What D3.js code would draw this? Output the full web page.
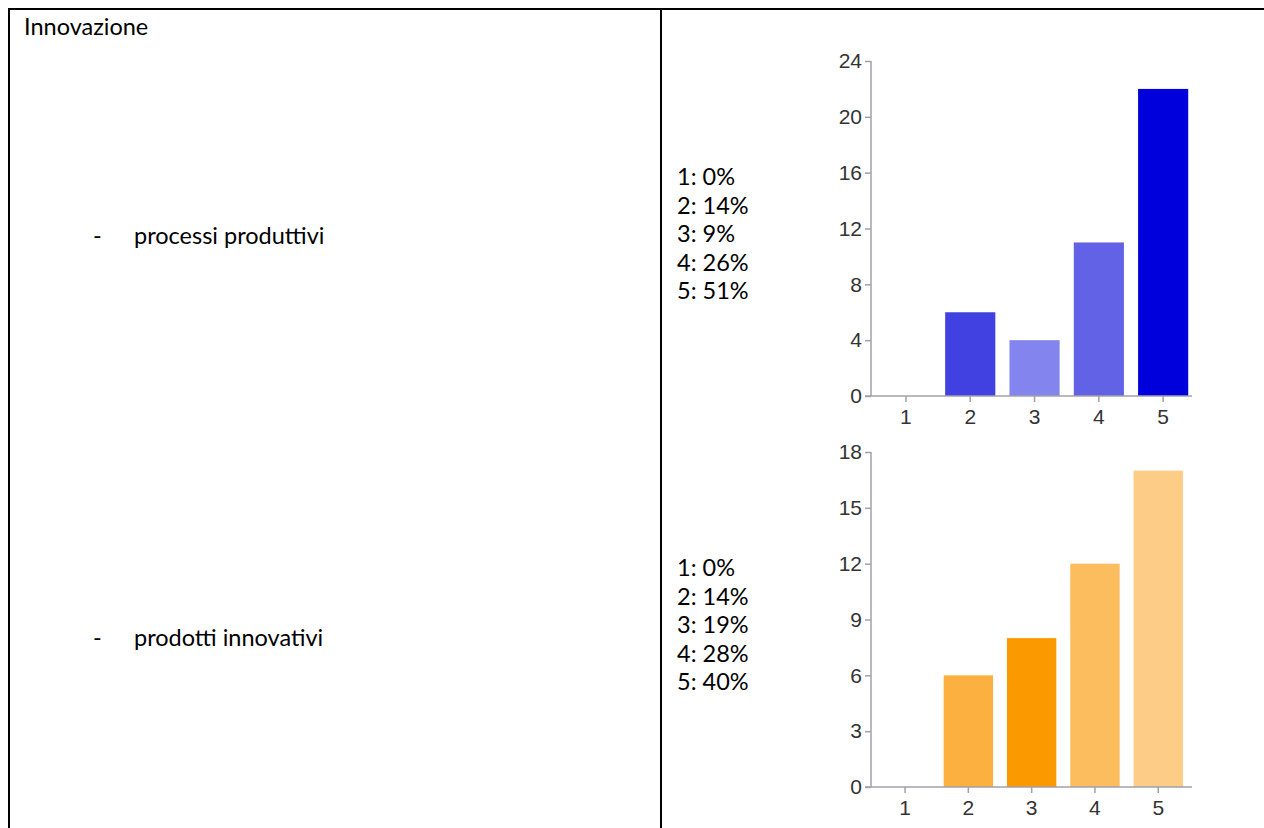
<!DOCTYPE html>
<html>
<head>
<meta charset="utf-8">
<script src="https://cdn.jsdelivr.net/npm/d3@7"></script>
<style>
  html, body { margin: 0; padding: 0; background: #fff; }
  svg { display: block; }
  .doc { font-family: Lato, "Open Sans", sans-serif; font-size: 23.5px; fill: #000; }
  .axis text { font-family: "Liberation Sans", Arial, sans-serif; font-size: 21px; fill: #333; }
  .axis path, .axis line { stroke: #a0a0a8; stroke-width: 1.5px; }
</style>
</head>
<body>
<script>
// ---- data ----
const title = "Innovazione";
const rowLabels = ["processi produttivi", "prodotti innovativi"];
const categories = ["1", "2", "3", "4", "5"];
const processiValues = [0, 6, 4, 11, 22];
const prodottiValues = [0, 6, 8, 12, 17];
const processiPercents = ["0%", "14%", "9%", "26%", "51%"];
const prodottiPercents = ["0%", "14%", "19%", "28%", "40%"];
const processiTicks = [0, 4, 8, 12, 16, 20, 24];
const prodottiTicks = [0, 3, 6, 9, 12, 15, 18];
const processiColors = ["#4040e0", "#4141e1", "#8484ee", "#6262e6", "#0000dc"];
const prodottiColors = ["#fbb040", "#fbb040", "#fa9900", "#fcbd5e", "#fdcd88"];

const W = 1264, H = 828;
const svg = d3.select("body").append("svg").attr("width", W).attr("height", H);

// table borders
const lines = [
  [8, 9, W, 9],
  [9, 8, 9, H],
  [661, 9, 661, H]
];
svg.selectAll("line.border").data(lines).join("line")
  .attr("class", "border")
  .attr("x1", d => d[0]).attr("y1", d => d[1])
  .attr("x2", d => d[2]).attr("y2", d => d[3])
  .attr("stroke", "#000").attr("stroke-width", 2);

svg.append("text").attr("class", "doc").attr("x", 24).attr("y", 35).text(title);

const rows = [
  { label: rowLabels[0], values: processiValues, pct: processiPercents, ticks: processiTicks,
    colors: processiColors, yMax: 24, y0: 396, y1: 61, x0: 873.8, x1: 1195.3, axisEnd: 1192, listTop: 185, labelY: 244 },
  { label: rowLabels[1], values: prodottiValues, pct: prodottiPercents, ticks: prodottiTicks,
    colors: prodottiColors, yMax: 18, y0: 787, y1: 452, x0: 873.4, x1: 1189.9, axisEnd: 1192, listTop: 576, labelY: 646 }
];

rows.forEach(r => {
  // left label
  svg.append("text").attr("class", "doc").attr("x", 93).attr("y", r.labelY).text("-");
  svg.append("text").attr("class", "doc").attr("x", 134).attr("y", r.labelY).text(r.label);

  // percentage list
  svg.append("g").selectAll("text").data(categories).join("text")
    .attr("class", "doc")
    .attr("x", 677)
    .attr("y", (d, i) => r.listTop + i * 28.6)
    .text((d, i) => d + ": " + r.pct[i]);

  // scales
  const x = d3.scaleBand().domain(categories).range([r.x0, r.x1]).paddingInner(0.22).paddingOuter(0.11);
  const y = d3.scaleLinear().domain([0, r.yMax]).range([r.y0, r.y1]);
  const axisX = 871;

  // bars
  svg.append("g").selectAll("rect").data(categories).join("rect")
    .attr("x", d => x(d))
    .attr("width", x.bandwidth())
    .attr("y", (d, i) => y(r.values[i]))
    .attr("height", (d, i) => r.y0 - y(r.values[i]))
    .attr("fill", (d, i) => r.colors[i]);

  // y axis
  const gy = svg.append("g").attr("class", "axis").attr("transform", `translate(${axisX},0)`)
    .call(d3.axisLeft(y).tickValues(r.ticks).tickSize(6).tickPadding(3).tickSizeOuter(0));
  gy.select(".domain").remove();
  gy.append("line").attr("x1", 0).attr("x2", 0).attr("y1", r.y1).attr("y2", r.y0)
    .attr("stroke", "#a0a0a8").attr("stroke-width", 1.5);

  // x axis
  const gx = svg.append("g").attr("class", "axis").attr("transform", `translate(0,${r.y0})`)
    .call(d3.axisBottom(x).tickSize(6).tickPadding(7).tickSizeOuter(0));
  gx.select(".domain").remove();
  gx.append("line").attr("x1", axisX - 6).attr("x2", r.axisEnd).attr("y1", 0).attr("y2", 0)
    .attr("stroke", "#a0a0a8").attr("stroke-width", 1.5);
});
</script>
</body>
</html>
